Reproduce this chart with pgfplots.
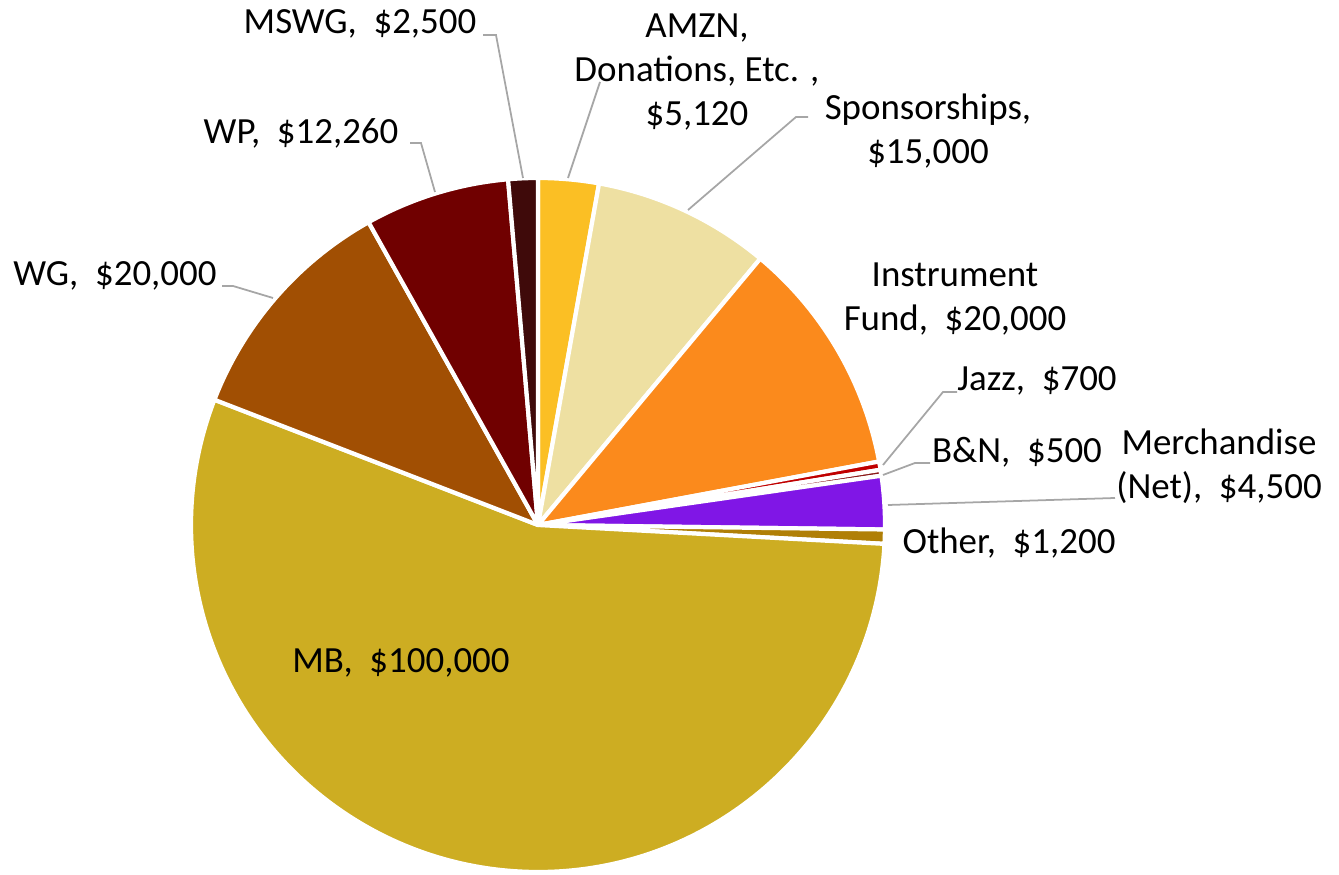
\documentclass[border=0pt]{standalone}
\usepackage{pgfplots}
\pgfplotsset{compat=1.18}
\usepackage{pgfplotstable}
\usepackage{fontspec}
\setmainfont{Carlito}

\definecolor{s0}{HTML}{FBBF24}
\definecolor{s1}{HTML}{EEE0A2}
\definecolor{s2}{HTML}{FB8A1C}
\definecolor{s3}{HTML}{C00000}
\definecolor{s4}{HTML}{8B1A1A}
\definecolor{s5}{HTML}{8016E6}
\definecolor{s6}{HTML}{B07F06}
\definecolor{s7}{HTML}{CDAD22}
\definecolor{s8}{HTML}{A14F03}
\definecolor{s9}{HTML}{700000}
\definecolor{s10}{HTML}{3F0A0A}
\definecolor{leader}{HTML}{A6A6A6}

% AMZN/Donations, Sponsorships, Instrument Fund, Jazz, B&N, Merchandise, Other, MB, WG, WP, MSWG
\pgfplotstableread{
value
5120
15000
20000
700
500
4500
1200
100000
20000
12260
2500
}\piedata

\begin{document}
\begin{tikzpicture}
\begin{axis}[hide axis, scale only axis, width=13.39cm, height=8.74cm,
  xmin=0, xmax=1339, ymin=0, ymax=874, clip=false]
\pgfplotstablegetrowsof{\piedata}
\edef\N{\the\numexpr\pgfplotsretval-1\relax}
\def\total{0}
\pgfplotsforeachungrouped \i in {0,...,\N}{%
  \pgfplotstablegetelem{\i}{value}\of\piedata
  \edef\total{\fpeval{\total+\pgfplotsretval}}%
}
\def\cum{0}
\pgfplotsforeachungrouped \i in {0,...,\N}{%
  \pgfplotstablegetelem{\i}{value}\of\piedata
  \edef\a{\fpeval{90-360*\cum/\total}}%
  \edef\cum{\fpeval{\cum+\pgfplotsretval}}%
  \edef\b{\fpeval{90-360*\cum/\total}}%
  \edef\temp{\noexpand\filldraw[fill=s\i, draw=white, line width=1.2pt, line join=round]
    (axis cs:538,349) -- ++(\a:3.47cm) arc[start angle=\a, end angle=\b, radius=3.47cm] -- cycle;}%
  \temp
}
% leader lines
\draw[leader, line width=0.5pt] (axis cs:483,839) -- (axis cs:496,839) -- (axis cs:523,696);
\draw[leader, line width=0.5pt] (axis cs:410,731) -- (axis cs:421,731) -- (axis cs:435,682);
\draw[leader, line width=0.5pt] (axis cs:600,792) -- (axis cs:568,696);
\draw[leader, line width=0.5pt] (axis cs:808,757) -- (axis cs:796,757) -- (axis cs:688,664);
\draw[leader, line width=0.5pt] (axis cs:222,588) -- (axis cs:233,588) -- (axis cs:273,576);
\draw[leader, line width=0.5pt] (axis cs:957,482) -- (axis cs:943,482) -- (axis cs:883,409);
\draw[leader, line width=0.5pt] (axis cs:930,411) -- (axis cs:915,411) -- (axis cs:883,399);
\draw[leader, line width=0.5pt] (axis cs:1115,376) -- (axis cs:888,369);
% labels
\tikzset{lab/.style={align=center, inner sep=0pt, font=\fontsize{10.5}{12.5}\selectfont}}
\node[lab] at (axis cs:360,850) {MSWG,~~\$2,500};
\node[lab] at (axis cs:697,802) {AMZN,\\Donations, Etc. ,\\\$5,120};
\node[lab] at (axis cs:928,743) {Sponsorships,\\\$15,000};
\node[lab] at (axis cs:955,575) {Instrument\\Fund,~~\$20,000};
\node[lab] at (axis cs:1037,493) {Jazz,~~\$700};
\node[lab] at (axis cs:1017,422) {B\&N,~~\$500};
\node[lab] at (axis cs:1219,408) {Merchandise\\(Net),~~\$4,500};
\node[lab] at (axis cs:1009,331) {Other,~~\$1,200};
\node[lab] at (axis cs:401,211) {MB,~~\$100,000};
\node[lab] at (axis cs:115,598) {WG,~~\$20,000};
\node[lab] at (axis cs:301,741) {WP,~~\$12,260};
\end{axis}
\pgfresetboundingbox
\path (0,0) rectangle (13.39cm,8.74cm);
\end{tikzpicture}
\end{document}
